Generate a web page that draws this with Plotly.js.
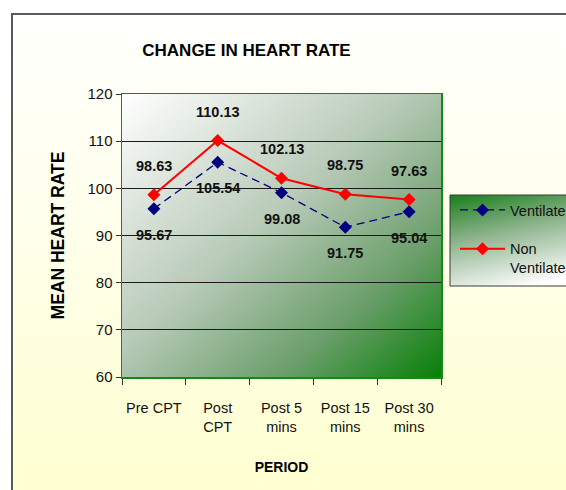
<!DOCTYPE html>
<html><head><meta charset="utf-8">
<script src="https://cdn.plot.ly/plotly-3.0.1.min.js"></script>
<style>
html,body{margin:0;padding:0;background:#fff;overflow:hidden}
#bg{position:absolute;left:11px;top:13px;width:620px;height:520px;border-left:2px solid #5a5a5a;border-top:2px solid #5a5a5a;background:linear-gradient(to bottom,#fffffd 0%,#ffffec 40%,#ffffcc 100%);}
#chart{position:absolute;left:0;top:0;width:566px;height:490px}
</style></head><body><div id="bg"></div><div id="chart"></div>
<script>
// ---- data ----
const periods = ['Pre CPT', 'Post<br>CPT', 'Post 5<br>mins', 'Post 15<br>mins', 'Post 30<br>mins'];
const ventilated = [95.67, 105.54, 99.08, 91.75, 95.04];
const nonVentilated = [98.63, 110.13, 102.13, 98.75, 97.63];
const seriesNames = ['Ventilated', 'Non<br>Ventilated'];
const yTicks = [60, 70, 80, 90, 100, 110, 120];

const FAM = "'Liberation Sans', Arial, sans-serif";

function svgGrad(stops, x1, y1, x2, y2){
  const st = stops.map(s => `<stop offset='${s[0]}' stop-color='${s[1]}'/>`).join('');
  const svg = `<svg xmlns='http://www.w3.org/2000/svg' width='200' height='200' preserveAspectRatio='none'><defs><linearGradient id='g' x1='${x1}' y1='${y1}' x2='${x2}' y2='${y2}'>${st}</linearGradient></defs><rect width='200' height='200' fill='url(#g)'/></svg>`;
  return 'data:image/svg+xml;base64,' + btoa(svg);
}
const plotBg = svgGrad([[0,'#ffffff'],[0.45,'#b8cab8'],[0.75,'#6a9e6a'],[1,'#078007']], 0, 0, 1, 1);
const legBg = svgGrad([[0,'#1a7f1a'],[0.45,'#8fb48f'],[1,'#ffffff']], 0, 0, 0.45, 1);

const W = 566, H = 490;
const L = 122, R = 441, T = 94, B = 377;
const px = x => (x - L) / (R - L);
const py = y => (B - y) / (B - T);

const traces = [
  {x: periods, y: ventilated, name: seriesNames[0], type: 'scatter', mode: 'lines+markers',
   legendgroup: 'a',
   line: {color: '#000080', width: 1.3, dash: '8px,5px'},
   marker: {symbol: 'diamond', size: 10, color: '#000080'}},
  {x: periods, y: nonVentilated, name: seriesNames[1], type: 'scatter', mode: 'lines+markers',
   legendgroup: 'b',
   line: {color: '#ff0000', width: 2},
   marker: {symbol: 'diamond', size: 10, color: '#ff0000'}}
];

const labFont = {family: FAM, size: 14.5, color: '#111', weight: 700};
const ann = [];
periods.forEach((p, i) => {
  ann.push({x: p, y: nonVentilated[i], xref: 'x', yref: 'y', text: nonVentilated[i].toFixed(2), showarrow: false, yshift: 29, font: labFont});
  ann.push({x: p, y: ventilated[i], xref: 'x', yref: 'y', text: ventilated[i].toFixed(2), showarrow: false, yshift: -26, font: labFont});
});

const layout = {
  width: W, height: H,
  margin: {l: L, r: W - R, t: T, b: H - B},
  paper_bgcolor: 'rgba(0,0,0,0)', plot_bgcolor: 'rgba(0,0,0,0)',
  font: {family: FAM, size: 14, color: '#111'},
  title: {text: 'CHANGE IN HEART RATE', x: 246.5 / W, xanchor: 'center', y: 1 - 50 / H, yanchor: 'middle',
          font: {family: FAM, size: 17, weight: 700, color: '#000'}},
  xaxis: {type: 'category', range: [-0.5, 4.5], tickson: 'boundaries', ticks: 'outside', ticklen: 6, tickcolor: '#333',
          tickangle: 0, automargin: false,
          showgrid: false, showline: true, linecolor: '#138a13', linewidth: 1.5, mirror: true,
          ticklabelstandoff: 17, tickfont: {family: FAM, size: 14.5, color: '#111'},
          title: {text: 'PERIOD', standoff: 28, font: {family: FAM, size: 14, weight: 700, color: '#000'}}},
  yaxis: {range: [60, 120], tickvals: yTicks, ticks: 'outside', ticklen: 5, tickcolor: '#333', automargin: false,
          showgrid: true, gridcolor: '#1a1a1a', gridwidth: 1, zeroline: false,
          showline: true, linecolor: '#138a13', linewidth: 1.5, mirror: true,
          tickfont: {family: FAM, size: 15, color: '#111'},
          title: {text: 'MEAN HEART RATE', standoff: 18, font: {family: FAM, size: 17.5, weight: 700, color: '#000'}}},
  legend: {xref: 'container', yref: 'container', x: 455 / W, xanchor: 'left', y: 1 - 194 / H, yanchor: 'top',
           bgcolor: 'rgba(0,0,0,0)', borderwidth: 0,
           font: {family: FAM, size: 14.5, color: '#111'}, valign: 'top', tracegroupgap: 17, itemwidth: 45},
  images: [
    {source: plotBg, xref: 'paper', yref: 'paper', x: 0, y: 1, sizex: 1, sizey: 1, xanchor: 'left', yanchor: 'top', sizing: 'stretch', layer: 'below'},
    {source: legBg, xref: 'paper', yref: 'paper', x: px(450), y: py(195), sizex: 1.6 - px(450), sizey: py(195) - py(286), xanchor: 'left', yanchor: 'top', sizing: 'stretch', layer: 'above'}
  ],
  shapes: [
    {type: 'rect', xref: 'paper', yref: 'paper', x0: px(450), x1: 1.6, y0: py(286), y1: py(195), line: {color: '#3a3a3a', width: 1}, fillcolor: 'rgba(0,0,0,0)', layer: 'above'}
  ],
  annotations: ann,
  showlegend: true
};

Plotly.newPlot('chart', traces, layout, {displayModeBar: false, staticPlot: true});
</script></body></html>
